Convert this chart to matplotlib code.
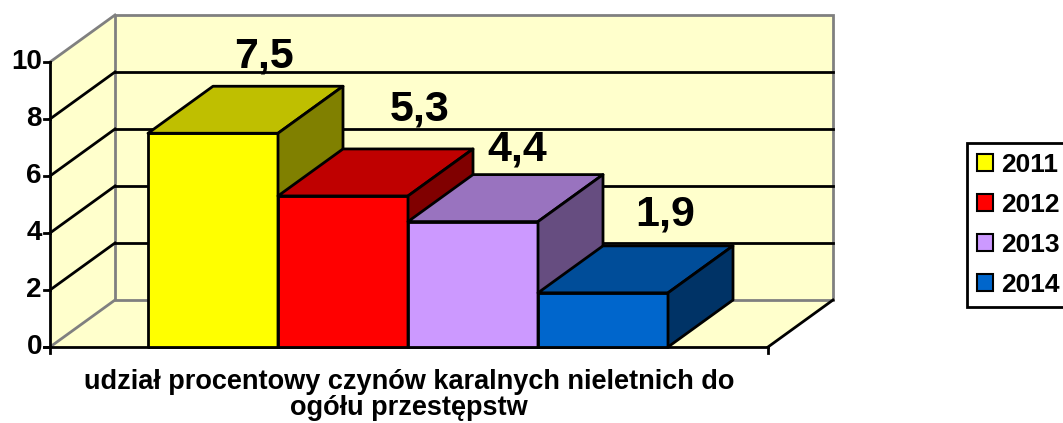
import numpy as np
import matplotlib
matplotlib.use("Agg")
import matplotlib.pyplot as plt
from matplotlib.patches import Polygon, Patch
from matplotlib.colors import to_rgb

plt.rcParams['font.family'] = ['Liberation Sans', 'DejaVu Sans']
plt.rcParams['font.weight'] = 'bold'

# data
years = ['2011', '2012', '2013', '2014']
values = [7.5, 5.3, 4.4, 1.9]
colors = ['#FFFF00', '#FF0000', '#CC99FF', '#0066CC']
yticks = [0, 2, 4, 6, 8, 10]
xlabel = 'udział procentowy czynów karalnych nieletnich do\nogółu przestępstw'

W, H = 1063, 423
fig = plt.figure(figsize=(W / 100, H / 100), dpi=100)
ax = fig.add_axes([0, 0, 1, 1])
# x in bar-width units (bar 0 starts at 0), y in value units
px_bar = 130.0
px_val = 28.5
x0_px, y0_px = 148, 347
ax.set_xlim(-x0_px / px_bar, (W - x0_px) / px_bar)
ax.set_ylim(-(H - y0_px) / px_val, y0_px / px_val)
ax.axis('off')

dx, dy = 65 / px_bar, 47 / px_val   # depth offset
xl = -98 / px_bar                    # left edge of floor (front)
xr = len(values) + 100 / px_bar      # right edge of floor (front)
ymax = 10
gray = '#808080'

# walls and floor
left_wall = [(xl, 0), (xl + dx, dy), (xl + dx, ymax + dy), (xl, ymax)]
back_wall = [(xl + dx, dy), (xr + dx, dy), (xr + dx, ymax + dy), (xl + dx, ymax + dy)]
floor = [(xl, 0), (xr, 0), (xr + dx, dy), (xl + dx, dy)]
for pts in (left_wall, back_wall, floor):
    ax.add_patch(Polygon(pts, closed=True, facecolor='#FFFFCC', edgecolor='none', zorder=1))

ax.add_patch(Polygon(back_wall, closed=True, facecolor='none', edgecolor=gray, lw=2, zorder=2))
for t in yticks:
    c = gray if t in (0, ymax) else 'black'
    ax.plot([xl, xl + dx], [t, t + dy], color=c, lw=2, zorder=2)
    if 0 < t < ymax:
        ax.plot([xl + dx, xr + dx], [t + dy, t + dy], color='black', lw=2, zorder=2)

# front axis lines
ax.plot([xl, xl], [0, ymax], color='black', lw=2, zorder=3)
ax.plot([xl - 6 / px_bar, xr], [0, 0], color='black', lw=2, zorder=3)
ax.plot([xr, xr + dx], [0, dy], color='black', lw=2, zorder=3)
for xx in (xl, xr):
    ax.plot([xx, xx], [0, -6 / px_val], color='black', lw=2, zorder=3)
for t in yticks:
    ax.plot([xl - 6 / px_bar, xl], [t, t], color='black', lw=2, zorder=3)
    ax.text(xl - 8 / px_bar, t, str(t), ha='right', va='center', fontsize=20,
            fontweight='bold', zorder=3)

# bars
z = 4
for i, (v, c) in enumerate(zip(values, colors)):
    rgb = np.array(to_rgb(c))
    front = [(i, 0), (i + 1, 0), (i + 1, v), (i, v)]
    top = [(i, v), (i + 1, v), (i + 1 + dx, v + dy), (i + dx, v + dy)]
    side = [(i + 1, 0), (i + 1 + dx, dy), (i + 1 + dx, v + dy), (i + 1, v)]
    for pts, col in ((front, rgb), (top, rgb * 0.75), (side, rgb * 0.5)):
        ax.add_patch(Polygon(pts, closed=True, facecolor=col, edgecolor='black',
                             lw=2, joinstyle='round', zorder=z))
        z += 1

# value labels (small nudges as placed in the original)
nudge_x = [-0.11, 0.09, -0.16, -0.02]
nudge_y = [0.67, 1.01, 0.51, 0.73]
for i, v in enumerate(values):
    ax.text(i + 0.5 + dx + nudge_x[i], v + dy + nudge_y[i], f'{v:.1f}'.replace('.', ','),
            ha='center', va='baseline', fontsize=31, fontweight='bold', zorder=20)

# category axis title
ax.text((xl + xr) / 2, -48 / px_val, xlabel, ha='center', va='center',
        fontsize=19.5, fontweight='bold', linespacing=1.03)

handles = [Patch(facecolor=c, edgecolor='black', lw=1.5) for c in colors]
leg = fig.legend(handles, years, loc='upper left', bbox_to_anchor=(967 / W, 1 - 143 / H),
                 frameon=True, fancybox=False, edgecolor='black', framealpha=1,
                 prop={'weight': 'bold', 'size': 19}, handlelength=0.62, handleheight=0.62,
                 handletextpad=0.3, labelspacing=0.6, borderpad=0.38, borderaxespad=0)
leg.get_frame().set_linewidth(2)

fig.savefig('out.png', dpi=100)
